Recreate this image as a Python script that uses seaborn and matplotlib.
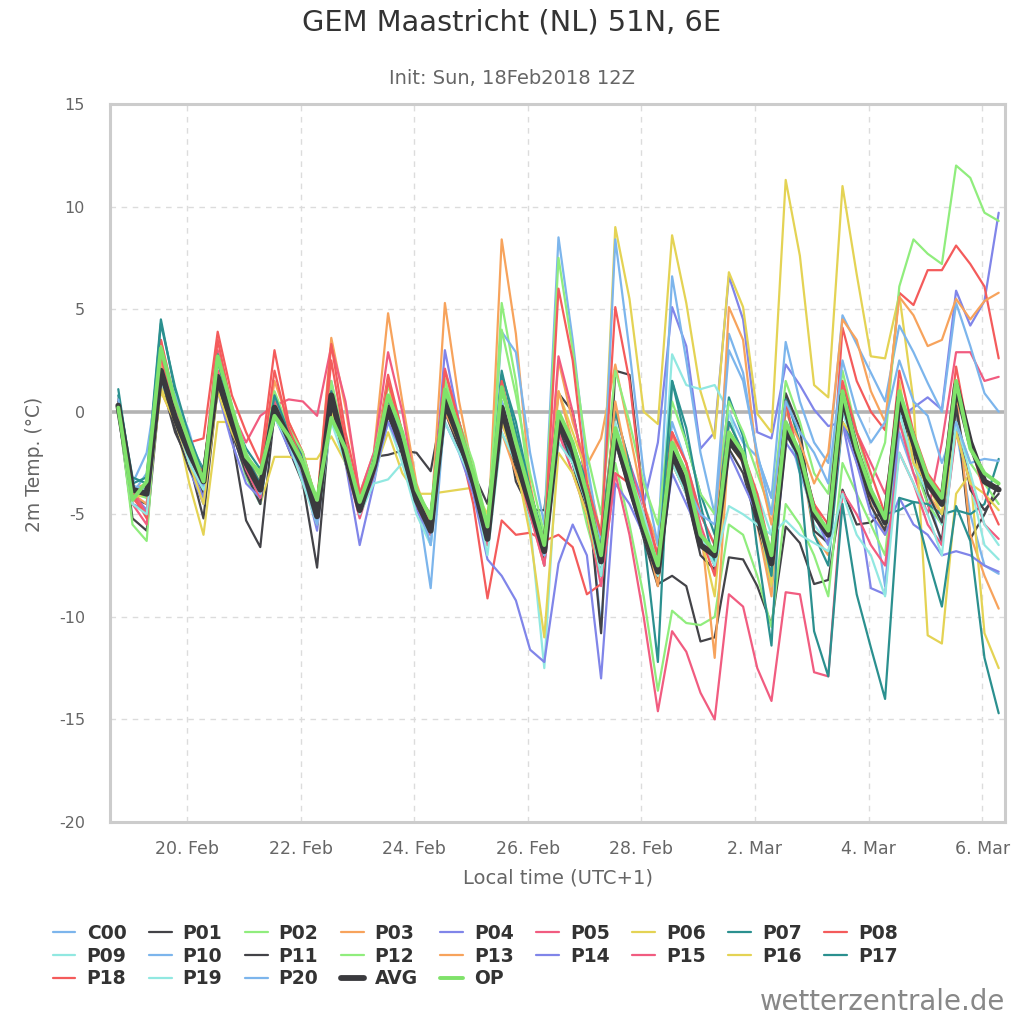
import pandas as pd
import numpy as np
import seaborn as sns
import matplotlib.pyplot as plt

# 6-hourly steps, local time (UTC+1), first step 18 Feb 18Z
times = pd.date_range("2018-02-18 19:00", periods=63, freq="6h")

tick_dates = pd.to_datetime(["2018-02-20", "2018-02-22", "2018-02-24", "2018-02-26",
                             "2018-02-28", "2018-03-02", "2018-03-04", "2018-03-06"])
tick_labels = ["20. Feb", "22. Feb", "24. Feb", "26. Feb", "28. Feb", "2. Mar", "4. Mar", "6. Mar"]

C00 = [0.4,
       -4.0, -3.0, 2.0, 0.3, -1.8, -3.2, 1.5, -0.8, -2.8, -4.0, 0.2, -1.2, -2.8, -5.3, 0.6, -2.2,
       -5.0, -3.0, 0.2, -2.0, -4.5, -6.5, 0.5, -1.5, -3.5, -6.5, 0.5, -2.5, -4.5, -7.5, -0.5, -2.0,
       -3.5, -10.5, -1.0, -3.0, -5.0, -7.5, -0.5, -2.5, -5.0, -6.5, 0.0, -1.5, -2.2, -4.2, -0.5, -3.0,
       -5.0, -6.0, 0.5, -2.0, -4.0, -8.5, -1.0, -3.0, -4.0, -6.5, -0.8, -5.0, -7.5, -7.9]
P01 = [0.0,
       -5.2, -5.8, 1.5, -1.0, -2.5, -5.2, 1.2, -1.2, -5.3, -6.6, 0.0, -1.8, -3.5, -7.6, 0.3, -2.5,
       -4.5, -2.2, -2.1, -1.9, -2.0, -2.9, 0.8, -1.0, -3.0, -4.5, 0.5, -3.4, -4.8, -4.8, 0.9, 0.0,
       -3.5, -10.8, 2.0, 1.8, -4.3, -8.4, -8.0, -8.5, -11.2, -11.0, -7.1, -7.2, -8.5, -10.4, -5.6, -6.4,
       -8.4, -8.2, -3.8, -5.5, -5.4, -4.7, 0.3, -2.0, -4.5, -6.3, 0.3, -6.2, -5.0, -3.5]
P02 = [0.2,
       -5.5, -6.3, 3.0, -0.5, -2.5, -4.0, 2.5, -0.8, -3.2, -4.5, 0.8, -1.0, -2.8, -5.5, 1.2, -2.0,
       -5.0, -2.6, 0.8, -1.5, -4.0, -5.5, 1.6, -1.2, -3.5, -6.5, 5.3, 1.5, -4.0, -7.0, -1.0, -2.5,
       -5.5, -8.0, -2.5, -5.5, -9.0, -13.6, -9.7, -10.3, -10.4, -10.0, -5.5, -6.0, -8.0, -10.5, -4.5, -5.5,
       -7.0, -9.0, -2.5, -4.0, -5.5, -7.0, -0.5, -2.5, -4.5, -5.5, -0.5, -2.5, -3.5, -4.5]
P03 = [0.6,
       -3.8, -3.5, 1.0, -0.5, -2.0, -3.0, 1.2, -0.2, -2.0, -3.5, 1.5, -0.5, -2.0, -4.5, 3.6, 0.2,
       -4.0, -2.0, 4.8, 0.5, -3.5, -5.5, 5.3, 0.5, -3.0, -6.5, 8.4, 3.8, -3.5, -7.0, 2.5, -0.5,
       -2.6, -1.3, 2.3, -1.0, -4.5, -6.5, -1.0, -3.5, -5.5, -12.0, -1.5, -2.5, -5.5, -9.0, -0.5, -2.0,
       -6.0, -7.0, 0.5, -2.5, -4.5, -6.0, 0.5, -1.5, -4.0, -5.0, 1.0, -6.0, -8.0, -9.6]
P04 = [0.3,
       -4.5, -4.8, 1.5, -0.5, -2.8, -4.5, 1.5, -1.0, -3.0, -4.5, 0.0, -1.5, -3.0, -5.8, 0.5, -2.5,
       -6.5, -3.5, 0.0, -2.0, -4.5, -6.0, 3.0, -0.5, -3.0, -6.0, 0.5, -2.0, -4.5, -7.5, -1.0, -2.5,
       -4.5, -7.0, -1.5, -2.5, -4.5, -1.5, 5.1, 3.2, -1.8, -1.0, 6.6, 4.5, -1.0, -1.3, 2.3, 1.3,
       0.1, -0.7, -0.5, -4.0, -8.6, -8.9, -0.3, 0.2, 0.7, 0.1, 5.9, 4.2, 5.4, 9.7]
P05 = [0.5,
       -4.5, -5.5, 3.5, 0.0, -2.0, -3.0, 3.0, 0.0, -1.5, -0.2, 0.3, 0.6, 0.5, -0.2, 3.2, 0.5,
       -4.0, -2.0, 2.9, 0.0, -4.0, -5.0, 2.1, -0.5, -3.0, -6.0, 1.5, -2.0, -4.0, -6.5, 2.7, 0.0,
       -3.5, -6.5, 0.0, -2.5, -5.0, -7.0, -1.0, -2.5, -5.5, -7.5, -1.0, -2.5, -4.5, -7.0, -0.5, -2.0,
       -4.5, -6.0, 1.2, -1.0, -2.5, -4.0, -0.5, -3.0, -5.0, -1.5, 2.9, 2.9, 1.5, 1.7]
P06 = [0.3,
       -4.0, -5.0, 1.2, -0.2, -3.5, -6.0, -0.5, -0.5, -2.5, -4.5, -2.2, -2.2, -2.3, -2.3, -1.2, -2.5,
       -4.0, -3.0, -1.0, -3.0, -4.0, -4.0, -3.9, -3.8, -3.7, -5.0, 0.5, -3.0, -5.0, -7.0, 1.0, -1.0,
       -3.0, -6.0, 9.0, 5.5, 0.0, -0.6, 8.6, 5.3, 1.0, -1.3, 6.8, 5.1, -0.1, -1.0, 11.3, 7.6,
       1.3, 0.7, 11.0, 6.7, 2.7, 2.6, 5.7, 0.5, -10.9, -11.3, -4.0, -3.0, -10.8, -12.5]
P07 = [1.1,
       -3.5, -3.2, 4.5, 1.0, -1.5, -2.8, 2.5, -0.2, -1.8, -2.8, 0.4, -0.8, -2.2, -4.5, 1.0, -1.5,
       -4.5, -2.2, 0.5, -1.5, -4.0, -5.5, 1.0, -0.5, -3.0, -5.5, 2.0, -1.0, -4.0, -6.0, 0.0, -1.5,
       -3.5, -6.0, 0.0, -2.5, -6.0, -12.2, 1.5, -1.5, -4.0, -6.0, 0.7, -1.2, -6.7, -11.4, 0.8, -1.5,
       -6.0, -7.5, -0.5, -2.0, -4.0, -5.0, -4.8, -4.4, -4.5, -5.0, -4.8, -5.0, -4.5, -2.3]
P08 = [0.6,
       -4.2, -5.0, 3.5, 0.5, -1.5, -1.3, 3.9, 0.8, -1.0, -2.5, 3.0, -0.5, -2.0, -4.5, 3.3, -1.0,
       -4.0, -2.5, 1.8, -1.0, -4.0, -5.0, 1.0, -1.5, -4.5, -9.1, -5.3, -6.0, -5.9, -6.3, -6.0, -6.6,
       -8.9, -8.4, -3.0, -3.5, -5.5, -7.0, -1.0, -2.5, -5.0, -6.5, -0.5, -2.0, -4.5, -7.0, -0.8, -2.5,
       -4.5, -6.0, 4.1, 1.5, 0.0, -0.9, 5.8, 5.2, 6.9, 6.9, 8.1, 7.2, 6.1, 2.6]
P09 = [0.2,
       -3.8, -4.2, 2.2, 0.8, -1.2, -3.0, 1.5, -0.5, -3.0, -4.5, 0.0, -1.5, -3.0, -5.0, 0.2, -2.0,
       -5.0, -3.3, -0.5, -2.5, -4.5, -6.0, 0.0, -1.5, -3.5, -6.5, 0.0, -2.5, -5.5, -12.5, -1.0, -2.0,
       -4.0, -7.0, -0.5, -3.0, -5.0, -7.5, 2.8, 1.3, 1.1, 1.3, 0.0, -2.5, -4.0, -6.0, -1.0, -2.5,
       -5.5, -6.5, 0.0, -2.0, -4.0, -5.0, 0.0, -2.5, -4.0, -5.5, -1.0, -3.5, -6.5, -7.2]
P10 = [0.5,
       -3.5, -2.0, 2.5, 0.8, -1.0, -3.5, 2.0, -0.5, -2.5, -4.0, 0.5, -1.0, -2.5, -5.0, 1.5, -1.8,
       -4.5, -2.5, 0.5, -1.5, -4.0, -8.6, 0.0, -1.5, -3.0, -6.0, 3.9, 2.9, -2.0, -5.5, 8.5, 3.5,
       -2.5, -6.5, 8.4, 3.0, -3.0, -6.5, 6.6, 2.5, -2.0, -5.0, 3.8, 1.9, -2.2, -4.2, 3.4, 0.5,
       -1.5, -2.5, 4.7, 3.3, 1.9, 0.5, 4.2, 2.9, 1.4, 0.0, 5.3, 3.2, 0.9, 0.0]
P11 = [0.5,
       -4.2, -4.5, 1.8, -0.8, -2.8, -4.0, 1.3, -1.0, -3.0, -4.5, 0.5, -1.5, -3.0, -5.5, 0.5, -2.4,
       -5.0, -3.0, -0.2, -2.0, -4.6, -6.0, 0.0, -1.8, -3.8, -6.5, 0.0, -2.8, -5.0, -7.2, -0.8, -2.5,
       -5.0, -8.0, -1.5, -3.8, -6.2, -8.5, -2.5, -4.0, -7.0, -7.7, -1.8, -3.0, -5.5, -8.0, 0.9, -0.8,
       -5.8, -6.4, 0.5, -2.4, -4.6, -5.8, 0.2, -1.0, -4.0, -5.4, 0.3, -3.8, -4.8, -4.0]
P12 = [0.3,
       -4.0, -4.2, 3.2, 0.2, -1.8, -3.2, 2.8, 0.3, -2.0, -3.2, 1.0, -0.8, -2.0, -4.5, 1.5, -1.6,
       -4.5, -2.2, 1.3, -1.2, -4.0, -5.0, 1.5, -0.5, -2.5, -5.5, 4.0, 0.8, -3.0, -6.0, 7.5, 3.0,
       -2.0, -5.0, 2.0, -0.5, -3.5, -5.5, 0.5, -1.5, -4.0, -5.0, 0.5, -1.0, -3.0, -5.0, 1.5, -0.5,
       -3.0, -4.0, 2.0, -1.0, -3.5, -1.5, 6.1, 8.4, 7.7, 7.2, 12.0, 11.4, 9.7, 9.3]
P13 = [0.4,
       -4.0, -4.5, 2.5, 0.0, -1.5, -3.5, 2.0, -0.8, -2.5, -4.0, 0.5, -1.0, -2.5, -5.2, 1.0, -2.0,
       -4.8, -2.5, 0.5, -1.8, -4.2, -6.0, 0.0, -1.5, -3.0, -6.5, -1.0, -3.0, -5.0, -7.5, 1.0, -1.5,
       -4.0, -7.0, 0.5, -3.0, -5.5, -8.5, -1.5, -3.0, -6.0, -7.5, 5.1, 3.5, -2.5, -5.5, 0.0, -1.5,
       -3.5, -2.0, 4.5, 3.5, 1.0, -0.5, 5.6, 4.7, 3.2, 3.5, 5.5, 4.5, 5.4, 5.8]
P14 = [0.2,
       -4.0, -4.8, 1.8, -0.5, -2.5, -4.2, 1.0, -1.5, -3.5, -4.2, -0.2, -1.8, -3.2, -5.5, 0.5, -2.5,
       -5.0, -3.2, -0.5, -2.0, -4.8, -6.0, -0.5, -2.0, -4.0, -7.2, -8.0, -9.2, -11.6, -12.2, -7.4, -5.5,
       -7.0, -13.0, -3.5, -4.5, -6.0, -8.0, -3.0, -4.5, -6.0, -7.5, -2.0, -3.5, -5.0, -8.5, -1.5, -2.5,
       -5.0, -6.5, -0.5, -2.5, -5.0, -6.0, -4.2, -5.5, -6.0, -7.0, -6.8, -7.0, -7.5, -7.8]
P15 = [0.3,
       -3.8, -5.0, 2.8, -0.5, -2.0, -3.5, 2.0, -0.5, -2.8, -4.2, 0.5, -1.5, -3.0, -5.5, 0.5, -2.5,
       -5.2, -3.0, 0.3, -2.0, -4.5, -6.0, 0.5, -1.5, -3.5, -6.5, -0.5, -2.5, -5.0, -7.5, -1.0, -3.0,
       -5.0, -8.5, -3.0, -6.0, -10.0, -14.6, -10.7, -11.7, -13.7, -15.0, -8.9, -9.5, -12.5, -14.1, -8.8, -8.9,
       -12.7, -12.9, -3.9, -5.0, -6.5, -7.5, -2.0, -3.5, -5.5, -6.5, -1.0, -3.5, -5.5, -6.2]
P16 = [0.4,
       -4.2, -4.0, 1.0, -0.5, -2.5, -4.5, 1.0, -1.0, -2.5, -4.0, 0.0, -1.5, -3.0, -5.0, 0.0, -2.0,
       -4.5, -2.5, 1.5, -1.5, -4.0, -5.5, 0.5, -1.0, -3.0, -5.5, -0.5, -2.5, -6.0, -11.0, -2.0, -3.0,
       -5.0, -8.0, -1.0, -3.0, -5.5, -8.0, -2.5, -4.0, -6.0, -9.0, -1.5, -2.0, -5.0, -8.5, -0.5, -2.0,
       -5.0, -6.0, -0.5, -1.5, -4.0, -5.5, 1.5, -2.5, -3.5, -5.0, -1.0, -3.5, -4.0, -4.8]
P17 = [0.8,
       -3.2, -3.5, 4.3, 1.2, -1.2, -3.0, 2.8, 0.0, -2.2, -3.5, 0.8, -1.0, -2.5, -5.0, 1.0, -1.8,
       -4.5, -2.5, 0.6, -1.2, -4.0, -5.8, 1.0, -1.0, -3.0, -5.8, 1.8, -0.5, -3.8, -6.5, -0.2, -2.5,
       -4.5, -8.0, -1.0, -3.5, -5.5, -7.8, 1.5, -0.8, -4.5, -7.5, -0.5, -2.0, -5.0, -8.0, 0.6, -3.0,
       -10.7, -12.9, -4.5, -8.9, -11.5, -14.0, -4.2, -4.4, -7.1, -9.5, -4.6, -6.3, -12.0, -14.7]
P18 = [0.4,
       -4.0, -5.2, 2.8, 0.2, -2.0, -3.0, 3.5, 0.2, -2.2, -3.0, 2.0, -0.8, -2.5, -4.8, 2.5, -1.5,
       -4.8, -2.8, 1.5, -1.0, -4.0, -5.5, 2.0, -0.5, -3.0, -6.0, 1.5, -1.5, -4.0, -6.5, 6.0, 2.5,
       -3.5, -6.0, 5.1, 1.5, -4.5, -7.0, -1.5, -3.0, -6.0, -8.0, -1.0, -2.0, -4.0, -7.0, 0.5, -2.5,
       -4.5, -5.5, 1.5, -1.0, -3.0, -5.0, 2.0, -1.0, -3.0, -4.0, 2.2, -1.5, -4.0, -5.5]
P19 = [0.1,
       -4.5, -5.0, 1.5, -0.2, -2.5, -3.8, 1.5, -0.5, -2.5, -4.0, -0.3, -1.5, -3.5, -5.5, -0.5, -2.5,
       -5.0, -3.5, -3.3, -2.5, -5.0, -6.5, -0.5, -2.0, -3.5, -7.0, -1.0, -2.5, -4.5, -7.0, -1.5, -2.5,
       -4.5, -8.0, -1.5, -3.5, -6.0, -8.0, -2.5, -4.0, -6.0, -7.5, -4.6, -5.0, -5.5, -6.0, -5.3, -6.0,
       -6.4, -6.8, -4.0, -6.0, -7.0, -9.0, -2.0, -3.5, -5.0, -7.0, -0.5, -3.0, -5.5, -6.5]
P20 = [0.6,
       -3.6, -3.8, 1.8, 0.0, -2.2, -3.6, 1.5, -0.5, -2.6, -4.0, 0.0, -1.5, -3.0, -5.5, 0.5, -2.0,
       -4.5, -2.8, 0.0, -1.5, -4.0, -6.5, 0.5, -1.0, -3.0, -6.0, 0.5, -2.0, -4.0, -7.0, -0.5, -1.5,
       -4.0, -7.0, -1.5, -3.5, -5.5, -7.5, -2.0, -3.5, -5.0, -5.5, 3.0, 1.5, -2.0, -5.0, 0.5, -1.0,
       -2.0, -3.5, 2.5, 0.0, -1.5, -0.5, 2.5, 0.5, -0.2, -2.5, -0.5, -2.5, -2.3, -2.4]
AVG = [0.3,
       -3.8, -4.0, 2.0, -0.3, -2.0, -3.4, 1.7, -0.5, -2.5, -3.8, 0.2, -1.3, -2.7, -5.1, 0.8, -2.1,
       -4.8, -2.7, 0.2, -1.8, -4.3, -5.8, 0.5, -1.3, -3.4, -6.2, 0.2, -2.3, -4.5, -6.8, -0.5, -1.9,
       -4.2, -7.3, -1.1, -3.6, -5.8, -7.8, -2.0, -3.6, -6.5, -7.0, -1.4, -2.3, -4.9, -7.4, -0.9, -2.1,
       -5.0, -6.0, 0.8, -1.9, -4.0, -5.4, 0.7, -1.5, -3.5, -4.5, 1.3, -1.5, -3.4, -3.8]
OP = [0.2,
      -4.3, -3.4, 3.1, 0.5, -1.5, -3.4, 2.7, 0.2, -2.2, -3.0, -0.2, -1.2, -2.5, -4.3, -0.3, -1.8,
      -4.4, -2.5, 0.8, -1.0, -3.8, -5.2, 1.1, -0.8, -3.0, -5.6, 1.2, -1.5, -4.0, -6.5, 0.0, -1.5,
      -4.0, -7.0, -0.8, -3.0, -5.5, -7.5, -1.5, -3.0, -6.0, -6.8, -1.0, -2.0, -4.5, -7.0, -0.5, -2.0,
      -4.8, -5.8, 1.0, -1.8, -3.8, -5.2, 1.0, -1.2, -3.2, -4.2, 1.5, -1.8, -3.0, -3.5]

names = ["C00", "P01", "P02", "P03", "P04", "P05", "P06", "P07", "P08", "P09", "P10",
         "P11", "P12", "P13", "P14", "P15", "P16", "P17", "P18", "P19", "P20", "AVG", "OP"]
series = [C00, P01, P02, P03, P04, P05, P06, P07, P08, P09, P10,
          P11, P12, P13, P14, P15, P16, P17, P18, P19, P20, AVG, OP]

hc = ["#7cb5ec", "#434348", "#90ed7d", "#f7a35c", "#8085e9",
      "#f15c80", "#e4d354", "#2b908f", "#f45b5b", "#91e8e1"]
colors = [hc[i % 10] for i in range(21)] + ["#3a3a3e", "#7fe26a"]
widths = [1.6] * 21 + [4.2, 2.8]

sns.set_theme(style="white")
plt.rcParams["font.family"] = ["DejaVu Sans"]
plt.rcParams["axes.unicode_minus"] = False

fig = plt.figure(figsize=(10.24, 10.24), dpi=100)
ax = fig.add_axes([110 / 1024, 1 - 822 / 1024, 895 / 1024, 718 / 1024])

for name, vals, c, w in zip(names, series, colors, widths):
    sns.lineplot(x=times, y=vals, color=c, linewidth=w, label=name, ax=ax, zorder=3)

ax.axhline(0, color="#b3b3b3", linewidth=2.6, zorder=2)

ax.set_ylim(-20, 15)
ax.set_yticks(range(-20, 16, 5))
ax.set_xlim(pd.Timestamp("2018-02-18 15:30"), pd.Timestamp("2018-03-06 09:40"))
ax.set_xticks(tick_dates)
ax.set_xticklabels(tick_labels)
ax.set_xlabel("")
ax.set_ylabel("")

ax.grid(True, linestyle=(0, (4, 4)), color="#dcdcdc", linewidth=1)
for sp in ax.spines.values():
    sp.set_color("#cccccc")
    sp.set_linewidth(2.2)

ax.tick_params(axis="x", length=8, width=1, color="#ccd6eb", labelsize=12.5,
               labelcolor="#666666", pad=5)
ax.tick_params(axis="y", length=0, labelsize=11.5, labelcolor="#666666", pad=18)

fig.text(0.5, 1 - 23 / 1024, "GEM Maastricht (NL) 51N, 6E", ha="center", va="center",
         fontsize=20.8, color="#333333")
fig.text(0.5, 1 - 78 / 1024, "Init: Sun, 18Feb2018 12Z", ha="center", va="center",
         fontsize=14, color="#666666")
fig.text(35 / 1024, 1 - 464 / 1024, "2m Temp. (°C)", rotation=90, ha="center", va="center",
         fontsize=13.5, color="#666666")
fig.text(558 / 1024, 1 - 878 / 1024, "Local time (UTC+1)", ha="center", va="center",
         fontsize=14, color="#666666")
fig.text(1005 / 1024, 1 - 1002 / 1024, "wetterzentrale.de", ha="right", va="center",
         fontsize=19.8, color="#888888")

# legend laid out row by row like the original (matplotlib fills columns first)
handles, labels = ax.get_legend_handles_labels()
ax.get_legend().remove()
order = []
for j in range(9):
    for r in range(3):
        k = j + 9 * r
        if k < len(labels):
            order.append(k)
leg = fig.legend([handles[k] for k in order], [labels[k] for k in order],
                 loc="upper left", bbox_to_anchor=(36 / 1024, 1 - 907 / 1024), ncol=9,
                 frameon=False, handlelength=1.2, handletextpad=0.6, columnspacing=1.2,
                 labelspacing=0.2, prop={"weight": "bold", "size": 13.5})
for t in leg.get_texts():
    t.set_color("#333333")

fig.savefig("out.png", dpi=100, facecolor="white")
